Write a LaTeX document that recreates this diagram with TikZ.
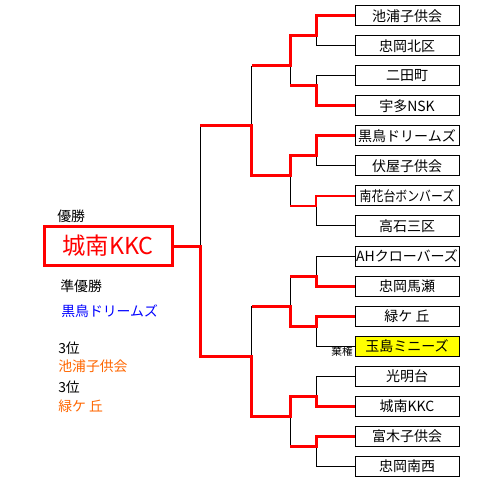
\documentclass[tikz,border=0pt]{standalone}
\usepackage{graphicx}
\usepackage{fontspec}
\setmainfont{Noto Sans CJK JP}
\usepackage{tikz}
\usetikzlibrary{positioning}

\definecolor{winred}{RGB}{255,0,0}
\definecolor{placeorange}{RGB}{255,102,0}
\definecolor{rungblue}{RGB}{0,0,255}
\definecolor{forfeityellow}{RGB}{255,255,0}

\tikzset{
	teambox/.style={draw, line width=0.75pt, fill=white, minimum width=78pt, minimum height=15pt,
			inner sep=0pt, font=\fontsize{10.5}{12}\selectfont}
}
\tikzset{
	lossline/.style={line width=0.75pt, black}
}
\tikzset{
	winline/.style={line width=2.25pt, winred}
}
\tikzset{
	thinwin/.style={line width=1.5pt, winred}
}
\tikzset{
	sidetext/.style={anchor=west, inner sep=0pt, font=\fontsize{10.4}{12}\selectfont}
}

\begin{document}
\begin{tikzpicture}[x=0.75pt, y=-0.75pt]

			\useasboundingbox (0,0) rectangle (481,484);

			\begin{scope}
				\node[teambox] (t1) at (407,16) {池浦子供会};
				\node[teambox] (t2) at (407,46) {忠岡北区};
				\node[teambox] (t3) at (407,76) {二田町};
				\node[teambox] (t4) at (407,106) {宇多NSK};
				\node[teambox] (t5) at (407,136) {黒鳥ドリームズ};
				\node[teambox] (t6) at (407,166) {伏屋子供会};
				\node[teambox] (t7) at (407,196) {\scalebox{0.85}[1]{南花台ボンバーズ}};
				\node[teambox] (t8) at (407,226) {高石三区};
				\node[teambox] (t9) at (407,256) {AHクローバーズ};
				\node[teambox] (t10) at (407,286) {忠岡馬瀬};
				\node[teambox] (t11) at (407,316) {緑ケ 丘};
				\node[teambox, fill=forfeityellow] (t12) at (407,346) {玉島ミニーズ};
				\node[teambox] (t13) at (407,376) {光明台};
				\node[teambox] (t14) at (407,406) {城南KKC};
				\node[teambox] (t15) at (407,436) {富木子供会};
				\node[teambox] (t16) at (407,466) {忠岡南西};

				\node[inner sep=0pt, font=\fontsize{8}{9}\selectfont] (kiken) at (342,351) {棄権};
			\end{scope}

			\begin{scope}
				\coordinate (p1) at (316,36);
				\coordinate (p2) at (316,86);
				\coordinate (p3) at (316,156);
				\coordinate (p4) at (316,206);
				\coordinate (p5) at (316,276);
				\coordinate (p6) at (316,326);
				\coordinate (p7) at (316,396);
				\coordinate (p8) at (316,446);

				\coordinate (q1) at (290,36);
				\coordinate (q2) at (290,86);
				\coordinate (q3) at (290,156);
				\coordinate (q4) at (290,206);
				\coordinate (q5) at (290,276);
				\coordinate (q6) at (290,326);
				\coordinate (q7) at (290,396);
				\coordinate (q8) at (290,446);

				\coordinate (r1) at (290,66);
				\coordinate (r2) at (290,176);
				\coordinate (r3) at (290,306);
				\coordinate (r4) at (290,416);

				\coordinate (s1) at (251.7,66);
				\coordinate (s2) at (251.7,176);
				\coordinate (s3) at (251.7,306);
				\coordinate (s4) at (251.7,416);

				\coordinate (u1) at (251.7,126);
				\coordinate (u2) at (251.7,356);
				\coordinate (v1) at (200,126);
				\coordinate (v2) at (200,356);
				\coordinate (w) at (200,246);
			\end{scope}

			\begin{scope}
				\node[draw=winred, line width=2.25pt, minimum width=96pt, minimum height=29.25pt, inner sep=0pt,
					text=winred, font=\fontsize{17.5}{19}\selectfont] (champ) at (108,246) {城南KKC};

				\node[sidetext] (yusho) at (57,216) {優勝};
				\node[sidetext] (junyusho) at (60,286) {準優勝};
				\node[sidetext, text=rungblue] (second) at (61,311) {黒鳥ドリームズ};
				\node[sidetext] (thirdA) at (58,348) {3位};
				\node[sidetext, text=placeorange] (thirdAteam) at (58,366) {池浦子供会};
				\node[sidetext] (thirdB) at (58,387) {3位};
				\node[sidetext, text=placeorange] (thirdBteam) at (58,406) {緑ケ 丘};
			\end{scope}

			\begin{scope}
				\draw[lossline] (t2.west) -| (p1);
				\draw[lossline] (t3.west) -| (p2);
				\draw[lossline] (t6.west) -| (p3);
				\draw[lossline] (t8.west) -| (p4);
				\draw[lossline] (t9.west) -| (p5);
				\draw[lossline] (t12.west) -| (p6);
				\draw[lossline] (t13.west) -| (p7);
				\draw[lossline] (t16.west) -| (p8);

				\draw[lossline] (q2) -- (r1);
				\draw[lossline] (q4) -- (r2);
				\draw[lossline] (q5) -- (r3);
				\draw[lossline] (q8) -- (r4);

				\draw[lossline] (s1) -- (u1);
				\draw[lossline] (s3) -- (u2);
				\draw[lossline] (v1) -- (w);
			\end{scope}

			\begin{scope}
				\draw[winline] (t1.west) -| (p1) -- (q1) -- (r1) -- (s1);
				\draw[winline] (t4.west) -| (p2) -- (q2);
				\draw[winline] (t5.west) -| (p3) -- (q3) -- (r2) -- (s2) -- (u1) -- (v1);
				\draw[thinwin] (t7.west) -| (p4) -- (q4);
				\draw[winline] (t10.west) -| (p5) -- (q5);
				\draw[winline] (t11.west) -| (p6) -- (q6) -- (r3) -- (s3);
				\draw[winline] (t14.west) -| (p7) -- (q7) -- (r4) -- (s4) -- (u2) -- (v2) -- (w) -- (champ.east);
				\draw[winline] (t15.west) -| (p8) -- (q8);
			\end{scope}

		\end{tikzpicture}
\end{document}
